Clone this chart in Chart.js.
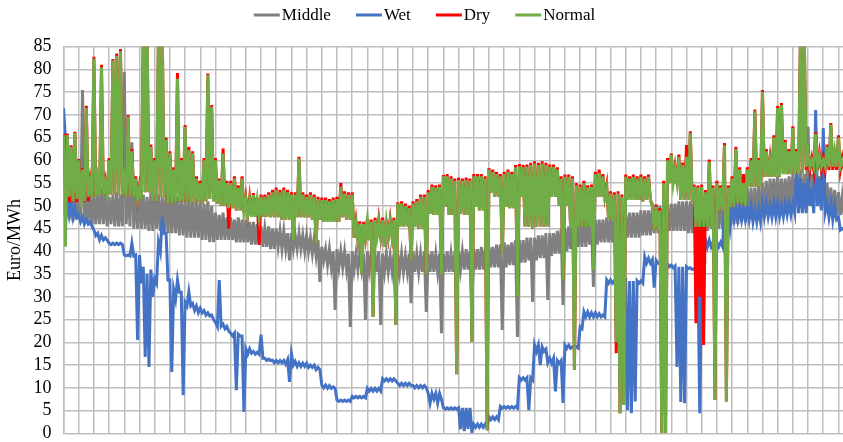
<!DOCTYPE html>
<html>
<head>
<meta charset="utf-8">
<script src="https://cdn.jsdelivr.net/npm/chart.js@4/dist/chart.umd.min.js"></script>
<style>
  html, body { margin: 0; padding: 0; background: #ffffff; }
  #wrap { width: 843px; height: 442px; }
</style>
</head>
<body>
<div id="wrap"><canvas id="c" width="843" height="442"></canvas></div>
<script>
// Hourly power prices (Euro/MWh) for four hydrological scenarios, condensed to
// quarter-week periods: for each period the highest and the lowest hourly price.
// One row = two weeks (8 periods).
const seriesNames = ['Middle', 'Wet', 'Dry', 'Normal'];

const middleHigh = [
  51, 52, 52.5, 53, 52, 75.5, 53, 52.5,
  53, 52.5, 54, 53, 52, 52.5, 53, 52.5,
  79.5, 55, 64, 53, 54, 52.5, 52, 53,
  55, 52.5, 52, 53, 54, 52, 52, 51.5,
  51.5, 52, 51, 51.5, 51, 50.5, 51, 50,
  48.5, 48, 48.5, 47.5, 47.5, 47, 47.5, 47,
  47, 46.5, 46.5, 46, 45.5, 45, 45.5, 45,
  45, 44.5, 44.5, 44, 44, 43.5, 44, 43.5,
  43.5, 43, 43, 42.5, 41, 40.5, 40.5, 40,
  40.5, 40, 40, 39.5, 40, 39.5, 39.5, 39.5,
  40, 39.5, 39.5, 40, 39.5, 39.5, 39, 39.5,
  39.5, 39.5, 39, 39.5, 40, 39.5, 39.5, 40,
  39.5, 40, 39.5, 39.5, 39.5, 40, 39.5, 40,
  40, 40, 40.5, 40, 40.5, 40.5, 41, 40.5,
  41, 41, 41.5, 41.5, 42, 41.5, 42, 42.5,
  42.5, 42.5, 43, 43, 43, 43.5, 43.5, 44,
  44, 44, 44.5, 45, 45, 45.5, 46, 46,
  46.5, 46.5, 46.5, 47, 47, 47, 47, 47.5,
  47.5, 48, 48, 48, 48, 48.5, 48.5, 48.5,
  49, 49, 49, 49.5, 49.5, 50, 50, 50,
  50.5, 50.5, 51, 51, 51, 51, 51.5, 51.5,
  51.5, 51.5, 52, 52, 52, 52, 52.5, 52.5,
  53, 53, 53.5, 53.5, 54, 54, 54, 54.5,
  55, 55.5, 56, 56, 56.5, 56, 56, 56.5,
  57, 57, 58, 57, 67.4, 57, 57, 56.5,
  56, 55, 54, 53.5, 53, 52
];
const middleLow = [
  47, 47, 46.5, 47, 46.5, 46, 46.5, 46,
  46, 46, 46, 45.5, 46, 45.5, 45.5, 45.5,
  46, 45.5, 45, 45, 45, 45, 44.5, 44.5,
  45, 44.5, 44, 44, 44, 44, 43.5, 43.5,
  43, 43, 43, 43, 42.5, 42.5, 42, 42,
  42.5, 42.5, 42.5, 42.5, 42.5, 42, 42, 42,
  42, 41.5, 41.5, 41.5, 41, 41, 40.5, 40.5,
  41, 40.5, 40.5, 38, 40.5, 40.5, 40.5, 40,
  40, 39.5, 39, 33.3, 38, 37, 36.5, 27.1,
  36.5, 36.5, 36, 23.4, 36, 36, 36, 24.9,
  36, 35.5, 35.5, 23.8, 35.5, 35.5, 35.5, 26.8,
  35.5, 35.5, 35.5, 28.6, 35.5, 35.5, 35.5, 26.7,
  35.5, 35.5, 35.5, 22, 35.5, 35.5, 35.5, 28.2,
  36, 36, 36, 28, 36, 36, 36, 32.2,
  36.5, 36.5, 36.5, 22.7, 36.5, 37, 37, 21.2,
  37.5, 37.5, 38, 28.9, 38, 38.5, 38.5, 29.3,
  39, 39.5, 39.5, 28.2, 40, 40.5, 40.5, 41,
  41, 41, 41.5, 32.2, 41.5, 42, 42, 42,
  42, 42, 42, 42.5, 43, 43, 43, 43,
  43.5, 43.5, 43.5, 44, 44, 44, 44.5, 44.5,
  44.5, 44.5, 44.5, 44.5, 44, 44, 44.5, 44.5,
  44.5, 44.5, 45, 45, 45, 45, 45.5, 45.5,
  46, 46, 46.5, 46.5, 47, 47, 47.5, 47.5,
  48, 49, 50, 50, 50, 50, 50, 50,
  50.5, 50.5, 50, 50, 50, 50, 50, 49.5,
  49.5, 49, 48.5, 48, 48, 48
];

const wetHigh = [
  71.5, 51, 50.5, 49.5, 48, 47.5, 47, 46.5,
  44.7, 44, 43.5, 43, 41.8, 41.8, 41.8, 41.8,
  39.2, 39.2, 41.8, 39.2, 39.2, 36.6, 35, 36,
  34, 42, 47.6, 44, 33.7, 31.6, 33.7, 31,
  28.8, 31.1, 28.5, 28, 27.5, 27, 26.5, 26,
  24.4, 33.7, 24, 23.5, 22, 22, 21.8, 21.4,
  18.6, 18.6, 18, 17.8, 21.7, 16.5, 16.3, 16.1,
  16, 16, 16, 16.2, 17.5, 15.8, 15.5, 15.4,
  15.4, 15, 15, 14.5, 10.6, 10.6, 10.5, 10.2,
  7.3, 7.3, 7.3, 7.3, 8.1, 8.1, 8.1, 8.1,
  9.9, 9.9, 9.9, 9.9, 12, 12, 12, 12,
  11, 11, 11, 11, 10.5, 10.5, 10.5, 10.5,
  8.8, 8.8, 8.8, 8.8, 5.6, 5.6, 5.6, 5.6,
  5.6, 5.6, 5.6, 5.6, 2, 2, 2, 2,
  3.6, 3.6, 3.6, 5.9, 5.9, 5.9, 5.9, 5.9,
  12.2, 12.2, 12.2, 12.2, 19.4, 19.4, 19, 18.5,
  16.5, 16.5, 16, 16, 19.4, 19.4, 19, 19,
  23.4, 26.7, 26.7, 26.5, 26.5, 26.3, 26, 33.7,
  33.7, 33.5, 33.5, 33.5, 33.5, 33.5, 33.5, 33.5,
  33.5, 38.8, 38.5, 38.2, 38, 37.4, 37.4, 37.2,
  37, 36.8, 36.6, 36.6, 36.6, 36.4, 36.2, 36,
  36, 42.5, 42.5, 42, 42, 42, 49.8, 49.5,
  49.5, 49.8, 49.5, 49.5, 49.5, 49.8, 49, 49.2,
  50.5, 50.5, 50, 50.5, 50.5, 50, 50.5, 50.5,
  50.5, 58.6, 56, 55, 56, 54, 71.1, 56,
  67.1, 50.5, 50.5, 50, 47.5, 45
];
const wetLow = [
  65, 48, 47.5, 47.5, 46.5, 46, 46, 45.5,
  43.5, 42.5, 42.5, 42.5, 41.5, 41.5, 41.5, 41.5,
  39, 39, 39, 20.5, 33, 16.8, 14.6, 30,
  33, 40, 44, 33.7, 13.5, 29.5, 31, 8.4,
  28, 28, 27, 26.5, 26.5, 26, 25.8, 25,
  23.5, 23.5, 23, 22.5, 21.4, 9.5, 21.4, 4.7,
  17.4, 17.6, 17.4, 17.4, 16.5, 16, 16, 15.5,
  15.5, 15.5, 15.2, 11.3, 15, 14.7, 14.7, 14.7,
  14.5, 14.5, 14, 14, 10, 9.9, 9.9, 9.9,
  7, 7, 7, 7, 7.8, 7.8, 7.8, 7.8,
  9.3, 9.3, 9.3, 9.3, 11.5, 11.5, 11.5, 11.5,
  10.5, 10.5, 10.5, 10.5, 10, 10, 10, 10,
  6.6, 7.5, 6.6, 7.5, 5.3, 5.3, 5.3, 5.3,
  0.9, 0.5, 1, 0.5, 1.3, 1.3, 1.3, 1.3,
  3, 3, 3, 5.5, 5.5, 5.5, 5.5, 5.5,
  11.7, 11.7, 5.1, 11.7, 18, 15, 18, 15.5,
  15.4, 9.2, 15.4, 6.7, 18.7, 18.7, 18.7, 18.7,
  23, 25.6, 25.6, 25.6, 25.6, 25.6, 25.6, 33,
  33, 33, 33, 33, 5.1, 4.4, 7, 33,
  33, 37.4, 37.4, 32, 37.4, 36.6, 36.6, 36.6,
  36.4, 14.6, 6.9, 6.6, 36.2, 36, 35.9, 4.4,
  35.9, 41, 41, 41, 41, 41, 45.4, 45.4,
  46.9, 47, 46.9, 46.9, 46.9, 46.5, 46.5, 46.5,
  47.6, 47.6, 47.5, 47.6, 47.6, 47.6, 48, 48,
  48.4, 48.4, 48.4, 48.4, 50, 48.4, 50, 49,
  48.5, 47.5, 47, 47, 44.7, 44.7
];

const dryHigh = [
  65.8, 65.9, 63.3, 66.3, 60.3, 58.3, 72, 55.5,
  82.8, 56.5, 81, 55.5, 60.5, 82.3, 83.5, 84.5,
  56.5, 70, 62.5, 56.5, 54.5, 88, 88, 63.5,
  60.5, 88, 88, 65, 62, 58.5, 79.2, 60.5,
  67.8, 63, 62, 56.5, 55.5, 60.5, 79.1, 72.2,
  60.5, 56, 62.6, 55.5, 55.5, 56.5, 54.5, 56.5,
  51.8, 51.8, 52.8, 51.8, 52.5, 52.5, 53, 53.5,
  54, 53.5, 54, 53.5, 53, 53, 60.8, 53,
  52.5, 53, 52.5, 52, 51.8, 51.8, 51.5, 51.8,
  52, 55, 53.2, 53, 53, 46.6, 46.6, 46.5,
  47.2, 47, 47.4, 47, 47.4, 47, 47, 47.4,
  50.8, 51, 50.5, 50, 51, 51.5, 52.5, 52.5,
  53.5, 54.7, 54.5, 54.7, 56.8, 57, 56.5, 56,
  56.2, 56, 56.2, 56, 57, 57, 57, 56.5,
  58.3, 58, 57.5, 57, 57.5, 58, 57.5, 59,
  59.2, 59, 59.1, 59.5, 59.8, 59.5, 59.8, 59.5,
  59.1, 59.1, 58.5, 56.5, 56.9, 56.9, 56.5, 55,
  54.7, 55.5, 54.5, 54.7, 57.5, 58, 57, 54.5,
  53.2, 53, 53.2, 52.5, 56.9, 56.5, 56.9, 56.5,
  56.9, 56.5, 56.9, 50.3, 50.3, 49.5, 55.5, 60.5,
  61.5, 58.5, 61.3, 59.5, 63.4, 66.4, 54.7, 54.5,
  54.7, 53.5, 60.2, 54.5, 55.5, 54.5, 63.8, 54.5,
  56.5, 63, 58.5, 57, 58.5, 60.5, 71.2, 60.5,
  75.5, 62.5, 60.5, 65.5, 72, 72.6, 64.5, 62.5,
  67.5, 62.5, 88, 88, 62.5, 60.5, 66.2, 61.5,
  60.5, 63.5, 68.2, 62.5, 65.5, 60.5
];
const dryLow = [
  50.8, 50.8, 50.8, 50.8, 50.8, 50.8, 51, 52,
  52, 52.5, 52.5, 52.5, 52.5, 52.5, 52.5, 52.5,
  52, 52, 52, 51.5, 51.5, 53, 53, 51,
  51, 52, 52, 50.5, 50.5, 51, 51, 51,
  51, 50.5, 50.5, 51, 50.5, 51, 51.5, 51,
  50.5, 50, 50, 45, 49.5, 49, 49, 48.5,
  48, 47.6, 47.6, 41.4, 47.6, 47.6, 47.5, 47.5,
  47.5, 47, 47, 47, 42.5, 47.5, 47.5, 47.5,
  47.5, 47, 41.7, 47, 46.5, 46.5, 46.5, 46.5,
  46.5, 47.5, 47, 47, 43, 42.5, 35.1, 43,
  42.5, 25.6, 43, 43.2, 41, 43.2, 43.2, 23.8,
  45.4, 45.5, 45.5, 38, 45.4, 45, 45, 35,
  48.3, 48, 48, 35, 49.8, 48, 48, 13,
  48.3, 48, 48, 20.1, 49.8, 49, 49, 0.7,
  52.9, 52, 52, 39.5, 49.8, 49.5, 49.5, 30,
  52, 45.5, 45.4, 45, 45.4, 45.5, 45.4, 45.5,
  52, 52, 50, 33.7, 50, 45, 13.9, 45.4,
  45.4, 45.4, 45.4, 35.9, 52, 52, 52, 46.9,
  46.9, 17.6, 4.4, 6.2, 51.3, 51.3, 51.3, 51.3,
  51, 51.3, 51.3, 44.7, 44.7, 0, 0, 55,
  55, 55, 51.3, 51.3, 51.3, 51, 24.2, 30,
  19.4, 45.4, 45.4, 7.3, 49, 49, 7, 49.8,
  49.8, 50.5, 50.5, 50, 54.2, 54.2, 54.2, 54.2,
  56.4, 56.4, 56.4, 56.4, 56.4, 57, 57, 57,
  57, 57, 57, 57.9, 57.9, 57.9, 57.9, 57.9,
  57.9, 57.9, 57.9, 57.9, 57.9, 57.9
];

const normalHigh = [
  65.5, 65.6, 63, 66, 60, 58, 71.5, 55,
  82.4, 56, 80.5, 55, 60, 82, 83, 84,
  56, 69.6, 62, 56, 54, 88, 88, 63,
  60, 88, 88, 64.5, 61.6, 58, 78, 60,
  67.4, 62.3, 61.6, 56, 55, 60, 78.8, 71.8,
  60, 55.6, 61.5, 55, 55, 56, 54, 56,
  51.3, 51.3, 52.4, 51.3, 52, 52, 52.5, 53,
  53.5, 53, 53.5, 53, 52.5, 52.5, 60.4, 52.5,
  52, 52.5, 52, 51.5, 51.3, 51.3, 51, 51.3,
  51.5, 54.2, 52.7, 52.5, 52.5, 46.1, 46.1, 46,
  46.9, 46.5, 46.9, 46.5, 46.9, 46.5, 46.5, 46.9,
  50.5, 50.5, 50, 49.5, 50.5, 51, 52, 52,
  53, 54.2, 54, 54.2, 56.5, 56.5, 56, 55.5,
  55.7, 55.5, 55.7, 55.5, 56.5, 56.5, 56.5, 56,
  58, 57.5, 57, 56.5, 57, 57.5, 57, 58.5,
  58.7, 58.5, 58.6, 59, 59.3, 59, 59.3, 59,
  58.6, 58.6, 58, 56, 56.4, 56.4, 56, 54.5,
  54.2, 55, 54, 54.2, 57, 57.2, 56.5, 54,
  52.7, 52.5, 52.7, 52, 56.4, 56, 56.4, 56,
  56.4, 56, 56.4, 49.8, 49.8, 49, 55, 60,
  61.2, 58, 60.8, 59, 60.8, 66, 54.2, 54,
  54.2, 53, 59.7, 54, 55, 54, 63.3, 54,
  56, 62.5, 58, 55, 58, 60, 70.8, 60,
  75.1, 62, 60, 65, 71.5, 72.2, 64, 62,
  67.1, 62, 88, 88, 62, 60, 65.8, 61,
  60, 63, 67.8, 62, 65, 60
];
const normalLow = [
  41, 52, 51, 51.5, 49.8, 51, 52, 52,
  52, 52.5, 52.5, 52.5, 52.5, 52.5, 52.5, 52.5,
  52, 52, 52, 51.5, 51.5, 53, 53, 51,
  51, 52, 52, 50.5, 50.5, 51, 51, 51,
  51, 50.5, 50.5, 51, 50.5, 51, 51.5, 51,
  50.5, 50, 50, 49.5, 49.5, 49, 49, 48.5,
  48, 47.6, 47.6, 47.6, 47.6, 47.6, 47.5, 47.5,
  47.5, 47, 47, 47, 42.5, 47.5, 47.5, 47.5,
  47.5, 47, 41.7, 47, 46.5, 46.5, 46.5, 46.5,
  46.5, 47.5, 47, 47, 43, 42.5, 35.1, 43,
  42.5, 25.6, 43, 43.2, 41, 43.2, 43.2, 23.8,
  45.4, 45.5, 45.5, 38, 45.4, 45, 45, 35,
  48.3, 48, 48, 35, 49.8, 48, 48, 13,
  48.3, 48, 48, 20.1, 49.8, 49, 49, 0.7,
  52.9, 52, 52, 39.5, 49.8, 49.5, 49.5, 30,
  52, 45.5, 45.4, 45, 45.4, 45.5, 45.4, 45.5,
  52, 52, 50, 33.7, 50, 45, 13.9, 45.4,
  45.4, 45.4, 45.4, 35.9, 52, 52, 52, 46.9,
  46.9, 20, 4.4, 6.2, 51.3, 51.3, 51.3, 51.3,
  51, 51.3, 51.3, 44.7, 44.7, 0, 0, 55,
  55, 55, 51.3, 51.3, 51.3, 51, 45.4, 45.4,
  45.4, 45.4, 45.4, 7.3, 49, 49, 7, 49.8,
  49.8, 50.5, 50.5, 50, 54.2, 54.2, 54.2, 54.2,
  56.4, 56.4, 56.4, 56.4, 56.4, 57, 57, 57,
  57, 57, 57, 58.6, 58.6, 58.6, 58.6, 58.6,
  58.6, 58.6, 58.6, 58.6, 58.6, 58.6
];

const yTicks = [0, 5, 10, 15, 20, 25, 30, 35, 40, 45, 50, 55, 60, 65, 70, 75, 80, 85];

const STEP = 0.25;         // weeks per period
const WEEKS_SHOWN = 51.3;  // visible span of the time axis

// Each period becomes its high followed by its low, so the line sweeps the
// whole hourly range of the period the way the raw hourly trace does.
function envelope(high, low) {
  const pts = [];
  high.forEach((h, i) => {
    pts.push({ x: i * STEP, y: h });
    pts.push({ x: i * STEP + STEP / 2, y: low[i] });
  });
  return pts;
}

const colors = { Middle: '#808080', Wet: '#4472c4', Dry: '#ff0000', Normal: '#70ad47' };

// Later series are painted over earlier ones (Normal on top).
const datasets = [
  { label: 'Middle', data: envelope(middleHigh, middleLow), order: 4 },
  { label: 'Wet',    data: envelope(wetHigh, wetLow),       order: 3 },
  { label: 'Dry',    data: envelope(dryHigh, dryLow),       order: 2 },
  { label: 'Normal', data: envelope(normalHigh, normalLow), order: 1 }
].map(d => Object.assign(d, {
  borderColor: colors[d.label],
  backgroundColor: colors[d.label],
  borderWidth: 3,
  pointRadius: 0,
  tension: 0,
  fill: false
}));

// Legend row above the plot: short coloured line, then the series name.
const lineLegend = {
  id: 'lineLegend',
  afterDraw(chart) {
    const ctx = chart.ctx;
    const lineLen = 26, textGap = 2, itemGap = 25, y = 15;
    ctx.save();
    ctx.font = '17px "Liberation Serif"';
    ctx.textBaseline = 'middle';
    ctx.textAlign = 'left';
    const items = seriesNames.map(n => ({ name: n, w: ctx.measureText(n).width }));
    const total = items.reduce((s, it) => s + lineLen + textGap + it.w, 0) + itemGap * (items.length - 1);
    let x = (chart.width - total) / 2 + 3;
    items.forEach(it => {
      ctx.strokeStyle = colors[it.name];
      ctx.lineWidth = 3;
      ctx.beginPath();
      ctx.moveTo(x, y);
      ctx.lineTo(x + lineLen, y);
      ctx.stroke();
      ctx.fillStyle = '#000000';
      ctx.fillText(it.name, x + lineLen + textGap, y + 1);
      x += lineLen + textGap + it.w + itemGap;
    });
    ctx.restore();
  }
};

const gridColor = '#bdbdbd';

new Chart(document.getElementById('c'), {
  type: 'line',
  data: { datasets },
  options: {
    responsive: false,
    animation: false,
    events: [],
    layout: { padding: { top: 46.7, right: 0, bottom: 0, left: 0 } },
    plugins: { legend: { display: false }, tooltip: { enabled: false } },
    scales: {
      x: {
        type: 'linear',
        min: 0,
        max: WEEKS_SHOWN,
        afterBuildTicks(axis) {
          const t = [];
          for (let w = 0; w <= Math.floor(WEEKS_SHOWN); w++) t.push({ value: w });
          axis.ticks = t;
        },
        afterFit(axis) { axis.height = 8.7; },
        ticks: { display: false },
        grid: { color: gridColor, lineWidth: 1.5, drawTicks: false },
        border: { display: false }
      },
      y: {
        min: 0,
        max: 85,
        afterBuildTicks(axis) { axis.ticks = yTicks.map(v => ({ value: v })); },
        afterFit(axis) {
          axis.width = 63.5;
          axis.paddingTop = 0;
          axis.paddingBottom = 0;
        },
        ticks: {
          autoSkip: false,
          padding: 12,
          color: '#000000',
          font: { family: '"Liberation Serif"', size: 18 }
        },
        grid: { color: gridColor, lineWidth: 1.5, drawTicks: false },
        border: { color: gridColor, width: 1.5 },
        title: {
          display: true,
          text: 'Euro/MWh',
          color: '#000000',
          font: { family: '"Liberation Serif"', size: 18 },
          padding: { top: 4, bottom: 0 }
        }
      }
    }
  },
  plugins: [lineLegend]
});
</script>
</body>
</html>
